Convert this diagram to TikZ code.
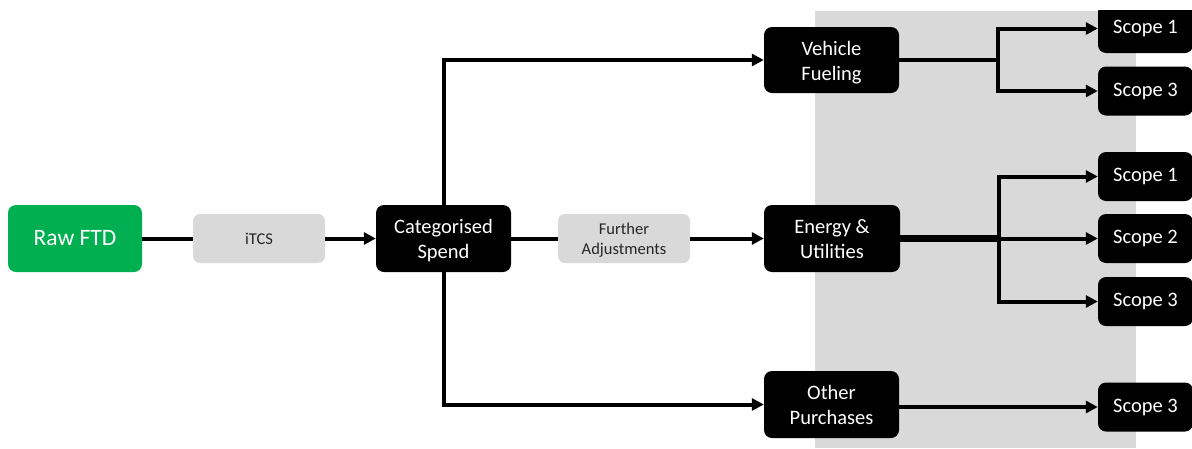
\documentclass[tikz,border=0pt]{standalone}
\usepackage{fontspec}
\setmainfont{Carlito}
\usetikzlibrary{arrows.meta}
\definecolor{ftdgreen}{HTML}{00B050}
\definecolor{panelgray}{HTML}{D9D9D9}
\definecolor{stepgray}{HTML}{D9D9D9}
\definecolor{steptext}{HTML}{262626}
% two centred lines; the optional extra head room sets them a little low
\newcommand{\twolines}[3][5pt]{\raisebox{0pt}[\dimexpr\height+#1\relax][\depth]{\begin{tabular}{@{}c@{}}#2\\#3\end{tabular}}}
\begin{document}
\begin{tikzpicture}[x=1pt,y=-1pt,
  stage/.style={rectangle, rounded corners=8pt, fill=black, text=white,
    font=\fontsize{20.5}{25}\selectfont, align=center, inner sep=0pt,
    minimum width=135pt, minimum height=67pt},
  source/.style={stage, fill=ftdgreen, font=\fontsize{23.5}{28}\selectfont,
    minimum width=134pt},
  process/.style={rectangle, rounded corners=7pt, fill=stepgray, text=steptext,
    font=\fontsize{16.5}{20}\selectfont, align=center, inner sep=0pt,
    minimum width=132pt, minimum height=49pt},
  scopebox/.style={rectangle, rounded corners=8pt, fill=black, text=white,
    font=\fontsize{20.5}{25}\selectfont, inner sep=0pt,
    minimum width=95pt, minimum height=49pt},
  link/.style={line width=4pt, line join=miter},
  tip/.style={-{Triangle[length=12pt,width=12pt]}},
  trunk/.style={line width=7pt}]
\useasboundingbox (0,0) rectangle (1192,448);
\clip (0,0) rectangle (1192,448);

% shaded emission-scope panel
\fill[panelgray] (815,11) rectangle (1136,448);

% pipeline stages
\node[source]  (raw)     at (75,238.5)    {Raw FTD};
\node[process] (itcs)    at (259,238.5)   {iTCS};
\node[stage]   (cat)     at (443.5,238.5) {\twolines{Categorised}{Spend}};
\node[process] (adj)     at (624,238.5)   {\twolines[3pt]{Further}{Adjustments}};
\node[stage, minimum width=136pt] (energy) at (832,238.5) {\twolines{Energy \&}{Utilities}};
\node[stage, minimum height=66pt] (vehicle) at (831.5,60) {\twolines{Vehicle}{Fueling}};
\node[stage]   (other)   at (831.5,404.5) {\twolines{Other}{Purchases}};

% scope outputs
\begin{scope}
  \clip (1090,10) rectangle (1200,60);
  \node[scopebox] (vs1) at (1145.5,28.5) {Scope 1};
\end{scope}
\node[scopebox] (vs3) at (1145.5,91)    {Scope 3};
\node[scopebox] (es1) at (1145.5,176.5) {Scope 1};
\node[scopebox] (es2) at (1145.5,238.5) {Scope 2};
\node[scopebox] (es3) at (1145.5,301.5) {Scope 3};
\node[scopebox] (os3) at (1145.5,407)   {Scope 3};

% branch points
\coordinate (vb) at (998,60);
\coordinate (eb) at (999,238.5);

% connectors
\draw[link] (raw) -- (itcs);
\draw[link, tip] (itcs) -- (cat);
\draw[link] (cat) -- (adj);
\draw[link, tip] (adj) -- (energy);
\draw[link, tip] (cat.north) |- (vehicle);
\draw[link, tip] (cat.south) |- (other);

\draw[link] (vehicle) -- (vb);
\draw[link, tip] (vb) |- (vs1.west);
\draw[link, tip] (vb) |- (vs3.west);

\draw[trunk] (energy.east) -- (eb);
\draw[link, tip] (eb) |- (es1.west);
\draw[link, tip] (eb) -- (es2.west);
\draw[link, tip] (eb) |- (es3.west);

\draw[link, tip] (other.east |- os3.west) -- (os3.west);
\end{tikzpicture}
\end{document}
